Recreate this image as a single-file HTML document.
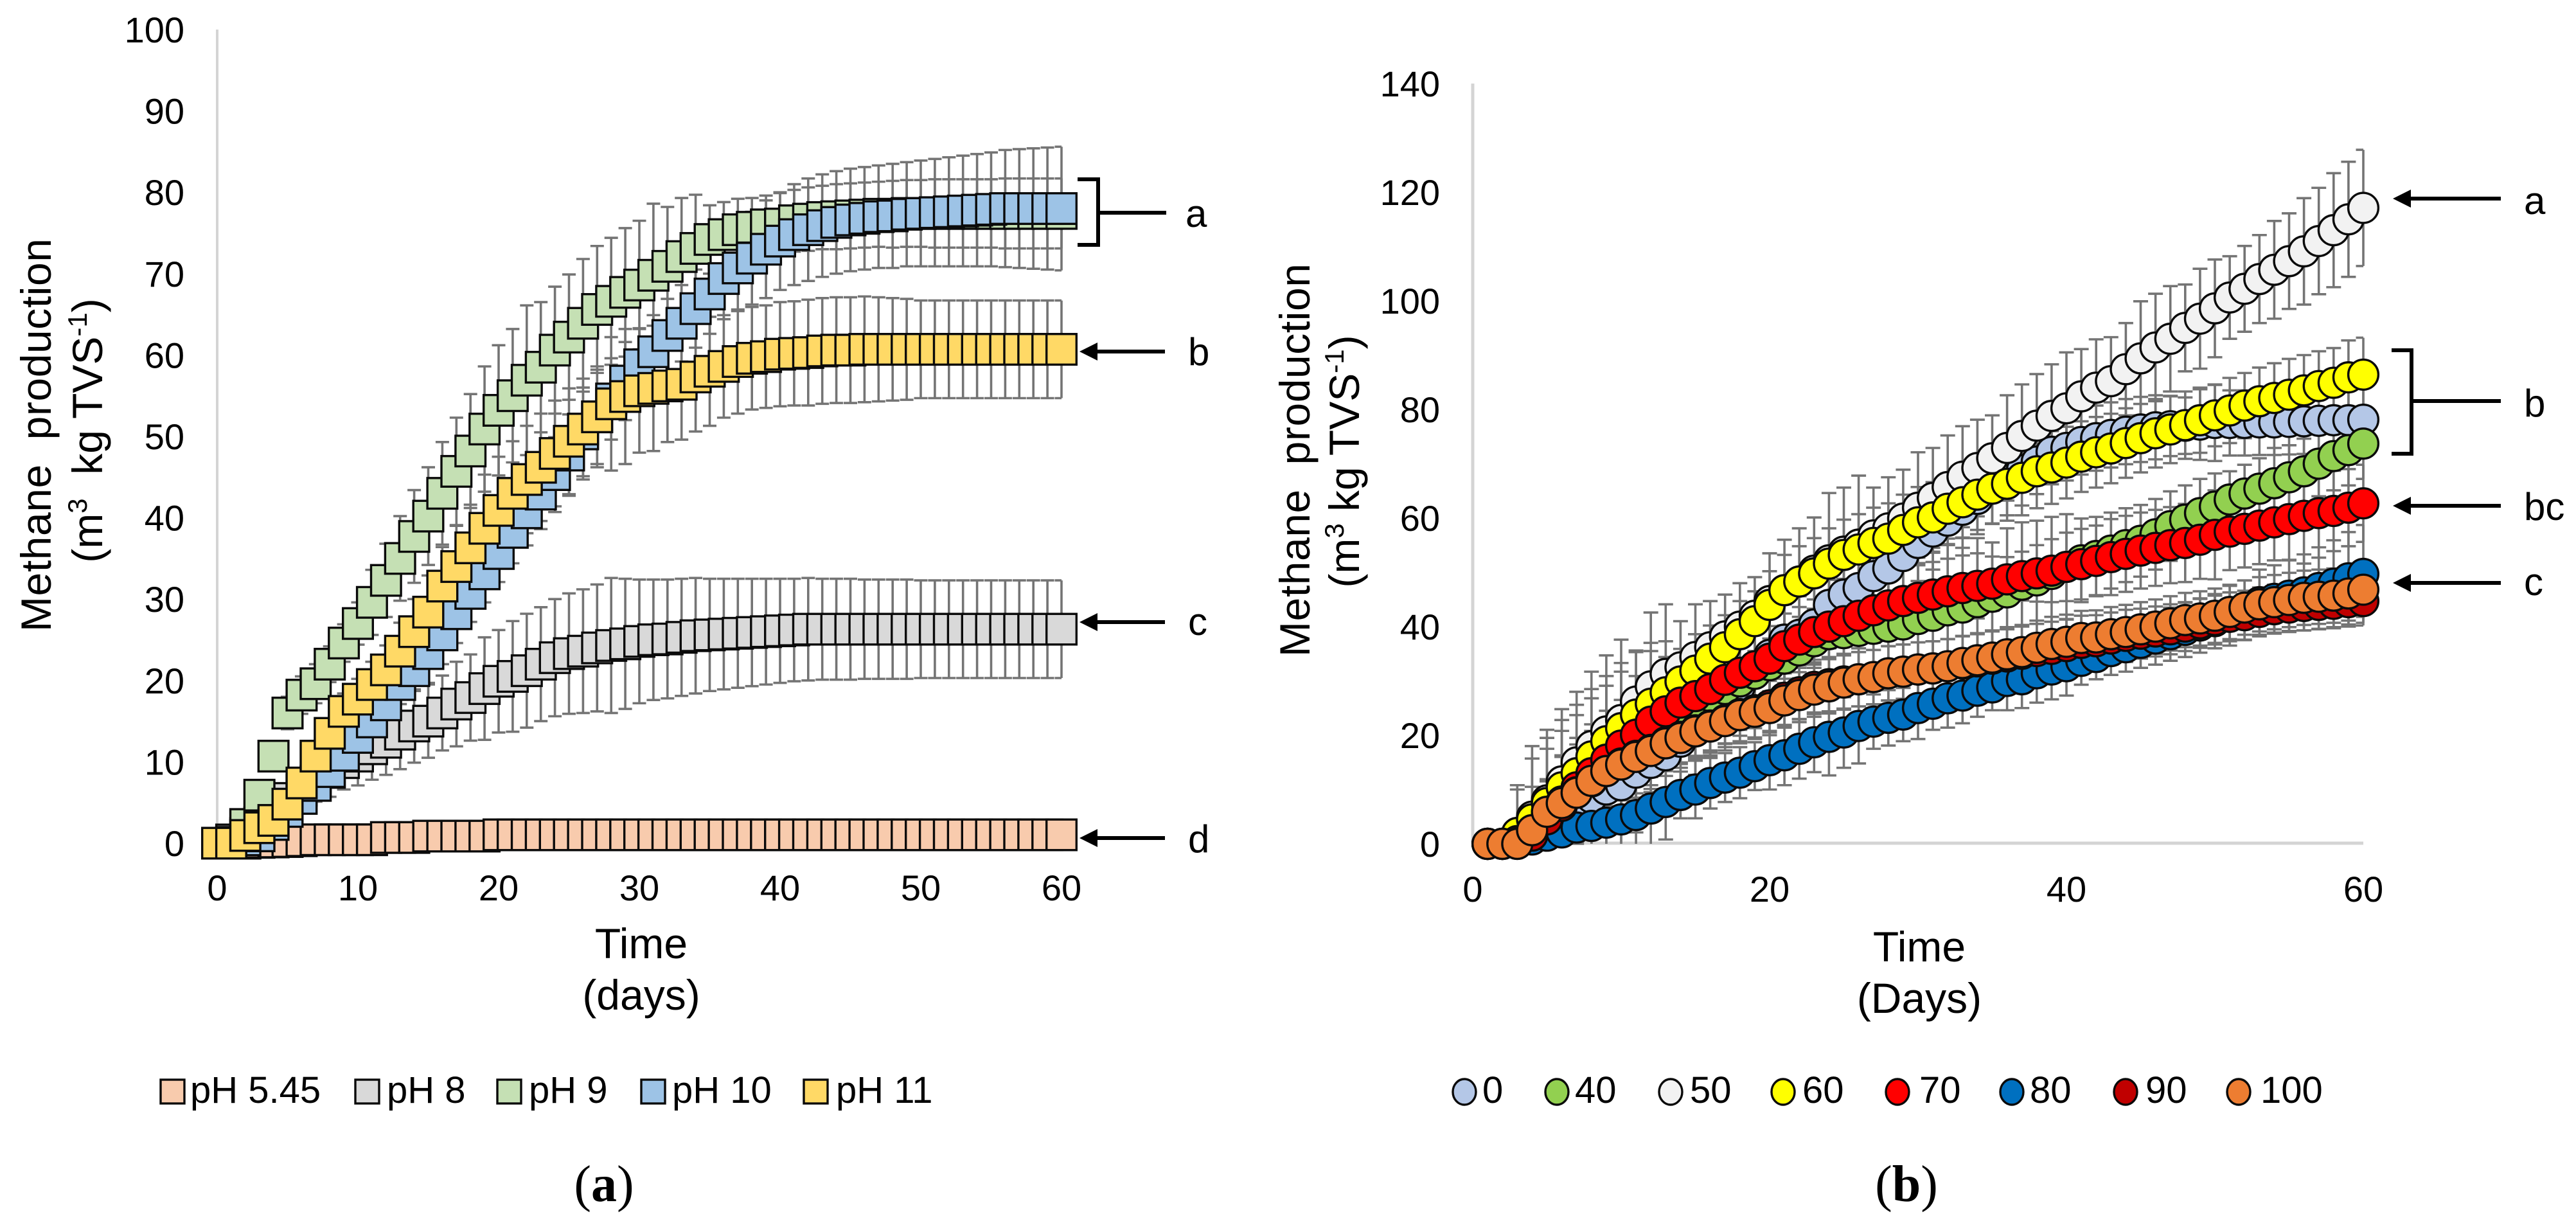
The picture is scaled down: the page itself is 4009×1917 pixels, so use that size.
<!DOCTYPE html>
<html>
<head>
<meta charset="utf-8">
<style>
html,body{margin:0;padding:0;background:#fff;}
svg{display:block;}
text{font-family:"Liberation Sans",sans-serif;fill:#000;}
.tick{font-size:56px;}
.title{font-size:66px;}
.leg{font-size:58px;}
.let{font-size:60px;}
.serif{font-family:"Liberation Serif",serif;font-size:80px;}
</style>
</head>
<body>
<svg id="fig" xmlns="http://www.w3.org/2000/svg" width="4009" height="1917" viewBox="0 0 4009 1917">
<rect x="0" y="0" width="4009" height="1917" fill="#ffffff"/>
<g id="chartA"></g>
<g id="chartB"></g>

<!-- chart a titles -->
<text class="title" transform="translate(79,677) rotate(-90)" text-anchor="middle" textLength="612" xml:space="preserve">Methane  production</text>
<text class="title" transform="translate(159,670) rotate(-90)" text-anchor="middle" xml:space="preserve">(m<tspan font-size="42" dy="-24">3</tspan><tspan dy="24">  kg TVS</tspan><tspan font-size="42" dy="-24">-1</tspan><tspan dy="24">)</tspan></text>
<text class="title" x="998" y="1491" text-anchor="middle">Time</text>
<text class="title" x="998" y="1571" text-anchor="middle">(days)</text>
<text class="serif" x="940" y="1869" text-anchor="middle">(<tspan font-weight="bold">a</tspan>)</text>

<!-- chart a annotations -->
<path d="M1677,279H1709V381H1677M1709,331H1815" fill="none" stroke="#000" stroke-width="6"/>
<text class="let" x="1845" y="353">a</text>
<g><path d="M1700,547H1813" stroke="#000" stroke-width="6"/><path d="M1680,547L1708,533V561Z"/></g>
<text class="let" x="1849" y="568">b</text>
<g><path d="M1700,968H1813" stroke="#000" stroke-width="6"/><path d="M1680,968L1708,954V982Z"/></g>
<text class="let" x="1849" y="988">c</text>
<g><path d="M1700,1304H1813" stroke="#000" stroke-width="6"/><path d="M1680,1304L1708,1290V1318Z"/></g>
<text class="let" x="1849" y="1326">d</text>

<!-- chart b titles -->
<text class="title" transform="translate(2038,716) rotate(-90)" text-anchor="middle" textLength="612" xml:space="preserve">Methane  production</text>
<text class="title" transform="translate(2115,718) rotate(-90)" text-anchor="middle">(m<tspan font-size="42" dy="-24">3</tspan><tspan dy="24"> kg TVS</tspan><tspan font-size="42" dy="-24">-1</tspan><tspan dy="24">)</tspan></text>
<text class="title" x="2987" y="1496" text-anchor="middle">Time</text>
<text class="title" x="2987" y="1576" text-anchor="middle">(Days)</text>
<text class="serif" x="2967" y="1869" text-anchor="middle">(<tspan font-weight="bold">b</tspan>)</text>

<!-- chart b annotations -->
<g><path d="M3745,309H3892" stroke="#000" stroke-width="6"/><path d="M3724,309L3752,295V323Z"/></g>
<text class="let" x="3928" y="333">a</text>
<path d="M3722,545H3753V706H3722M3753,624H3892" fill="none" stroke="#000" stroke-width="6"/>
<text class="let" x="3928" y="648">b</text>
<g><path d="M3745,787H3892" stroke="#000" stroke-width="6"/><path d="M3724,787L3752,773V801Z"/></g>
<text class="let" x="3928" y="809">bc</text>
<g><path d="M3745,907H3892" stroke="#000" stroke-width="6"/><path d="M3724,907L3752,893V921Z"/></g>
<text class="let" x="3928" y="926">c</text>
</svg>

<script>
// ===== Chart (a) data, days 0..60 =====
const aXTicks = [0,10,20,30,40,50,60];
const aYTicks = [0,10,20,30,40,50,60,70,80,90,100];
const aNames = ["pH 5.45","pH 8","pH 9","pH 10","pH 11"];
const aDays = [0,1,2,3,4,5,6,7,8,9,10,11,12,13,14,15,16,17,18,19,20,21,22,23,24,25,26,27,28,29,30,31,32,33,34,35,36,37,38,39,40,41,42,43,44,45,46,47,48,49,50,51,52,53,54,55,56,57,58,59,60];
const aPh545 = [0,0,0,0.1,0.15,0.2,0.3,0.42,0.42,0.42,
  0.42,0.42,0.7,0.7,0.7,0.87,0.87,0.87,0.87,0.87,
  1.03,1.03,1.03,1.03,1.03,1.03,1.03,1.03,1.03,1.03,
  1.03,1.03,1.03,1.03,1.03,1.03,1.03,1.03,1.03,1.03,
  1.03,1.03,1.03,1.03,1.03,1.03,1.03,1.03,1.03,1.03,
  1.03,1.03,1.03,1.03,1.03,1.03,1.03,1.03,1.03,1.03,1.03];
const aPh8 = [0,0.4,1.2,2.5,4,5.5,6.5,7.6,8.7,9.9,
  10.7,11.6,12.4,13.4,14.4,15,16,17.1,17.9,19,
  19.9,20.5,21.2,22,22.8,23.3,23.6,24,24.3,24.5,
  24.8,25,25.1,25.3,25.5,25.6,25.7,25.8,25.9,26,
  26.1,26.2,26.3,26.3,26.3,26.3,26.3,26.3,26.3,26.3,
  26.3,26.3,26.3,26.3,26.3,26.3,26.3,26.3,26.3,26.3,26.3];
const aPh9 = [0,0,2.3,5.9,10.7,16,18.2,19.6,22,24.6,
  27,29.6,32.3,35,37.7,40.2,43,45.7,48.2,50.9,
  53.2,55,56.9,58.5,60.6,62.2,63.9,65.6,66.6,67.7,
  68.6,69.8,70.9,72.1,73.1,74.2,74.8,75.4,75.7,76,
  76.1,76.5,76.7,76.9,77,77.1,77.2,77.3,77.3,77.4,
  77.4,77.4,77.4,77.4,77.4,77.4,77.4,77.4,77.4,77.4,77.4];
const aPh10 = [0,0.1,0.4,0.9,2.3,3.9,5.5,7.1,8.8,10.8,
  13,14.9,17,19.5,21.2,23.3,25.6,28.2,30.7,33.1,
  35.6,38.2,40.6,42.9,45.3,47.7,50.3,52.4,54.6,56.8,
  58.8,60.4,62.4,63.9,65.7,67.5,69.4,70.7,71.9,73,
  74,74.8,75.4,75.9,76.3,76.6,76.8,77,77.1,77.3,
  77.4,77.5,77.6,77.7,77.8,77.9,78,78,78,78,78];
const aPh11 = [0,0,0.95,1.9,2.8,4.8,7.4,10.7,13.5,16.2,
  17.7,19.5,21.3,23.6,26,28.4,31.6,34,36.3,38.7,
  40.9,43,44.7,46.2,47.9,49.4,50.9,52.4,54,54.9,
  55.6,55.9,56.2,56.4,57.3,58,58.6,59.2,59.6,59.8,
  60.1,60.2,60.3,60.5,60.6,60.6,60.7,60.7,60.7,60.7,
  60.7,60.7,60.7,60.7,60.7,60.7,60.7,60.7,60.7,60.7,60.7];
const aErr545 = [0,0,0,0.1,0.1,0.2,0.2,0.2,0.3,0.3,
  0.3,0.3,0.4,0.4,0.4,0.4,0.4,0.4,0.4,0.4,
  0.4,0.4,0.4,0.4,0.4,0.4,0.4,0.4,0.4,0.4,
  0.4,0.4,0.4,0.4,0.4,0.4,0.4,0.4,0.4,0.4,
  0.4,0.4,0.4,0.4,0.4,0.4,0.4,0.4,0.4,0.4,
  0.4,0.4,0.4,0.4,0.4,0.4,0.4,0.4,0.4,0.4,0.4];
const aErr8 = [0,0.2,0.5,0.8,1.2,1.5,2,2.5,3,3.3,
  3.6,3.8,4,4.3,4.5,4.5,4.6,5.2,5.3,6.3,
  6.3,6.8,7,7,7.2,7.4,7.6,7.8,8.3,8,
  7.6,7.4,7.3,7.2,7.1,6.9,6.8,6.7,6.6,6.5,
  6.4,6.3,6.3,6.2,6.2,6.2,6.1,6.1,6.1,6.1,
  6,6,6,6,6,6,6,6,6,6,6];
const aErr9 = [0,0,0.5,1,1.5,2,2.3,2.4,2.2,2.3,
  2.6,4,4.5,5.2,5.7,6,6.3,6.6,7,7.7,
  8,8.2,9.2,8,7.8,7.7,7.9,7.8,7.8,7.9,
  7.9,8.8,7.3,7.2,6.6,4.2,4,3.8,3.6,3.6,
  3.8,3.8,3.9,3.9,4,4,4,4,4.1,4.1,
  4.1,4.2,4.2,4.2,4.2,4.2,4.3,4.3,4.3,4.3,4.3];
const aErr10 = [0,0,0.2,0.4,0.7,1,1.2,1.4,1.6,1.8,
  2,2.2,2.4,2.4,2.5,3.6,3.6,3.6,3.5,3.5,
  3.5,3.8,4,4.3,4.6,5,5.2,5.8,5,4.8,
  4.5,4.5,4.5,4.7,4.8,4.9,5,5.3,5.7,6,
  6,6.2,6.3,6.3,6.3,6.3,6.3,6.3,6.4,6.4,
  6.5,6.6,6.7,6.8,6.9,7,7.2,7.3,7.4,7.5,7.6];
const aErr11 = [0,0,0.3,0.6,0.8,1,1.2,1.5,1.8,2.2,
  2.5,2.8,3,3.5,4,4.5,4.8,5,5.3,6.6,
  6.6,6.4,6.6,6.6,6.5,6.5,6.2,6.2,8.2,8.3,
  7.6,7.7,6.9,6.8,6.7,6.7,6.3,6.4,6.3,6.3,
  6.4,6.4,6.5,6.5,6.5,6.5,6.5,6.4,6.3,6.2,
  6,6,6,6,6,6,6,6,6,6,6];

// ===== Chart (b) data, days 1..60 =====
const bXTicks = [0,20,40,60];
const bYTicks = [0,20,40,60,80,100,120,140];
const bNames = ["0","40","50","60","70","80","90","100"];
const bDays = [1,2,3,4,5,6,7,8,9,10,11,12,13,14,15,16,17,18,19,20,21,22,23,24,25,26,27,28,29,30,31,32,33,34,35,36,37,38,39,40,41,42,43,44,45,46,47,48,49,50,51,52,53,54,55,56,57,58,59,60];
const b0 = [0,0,0.6,1.8,3.2,5,6.8,8.5,10,10.8,
  13.1,14.9,16.3,18.8,21.2,23.8,26.4,29,31.8,34.8,
  37.6,38.5,40.4,44,45.9,47.1,49.3,50.7,53,55.4,
  57.5,59.5,61.5,63.5,65.5,67,68.8,70.4,72.2,72.9,
  74,74.7,75.3,75.9,76.3,76.7,76.9,77,77.2,77.5,
  77.5,77.5,77.6,77.6,77.7,77.8,77.9,78,78,78.1];
const b40 = [0,0,1,3,5.5,8,10.5,12.5,14.5,16.5,
  18.5,20.8,23.4,25,26.2,27.2,28.5,29.9,31.3,32.9,
  34.1,35.6,37.3,38.6,38.8,39.2,39.6,40,40.4,41.4,
  42,43,43.5,44.5,45.5,46.3,47.7,48.5,49.7,51,
  52.2,53,54,55,55.8,57,58.5,59.7,60.9,62.1,
  63.4,64.5,65.4,66.4,67.5,68.6,70,71.4,72.5,73.7];
const b50 = [0,0,2,5,8,11.5,15,18,20.7,22.8,
  26.2,29,31.3,32.5,34.4,36.2,38.2,40,42,44.7,
  46.7,48.3,50.3,52.2,53.8,55.1,56.8,58.1,59.9,61.9,
  63.7,65.7,67.6,69.2,71,72.9,75.1,77,78.8,80.2,
  82.4,84,85.2,87.4,89.4,91.4,93,95,96.7,98.6,
  100.6,102.2,104,105.7,107.3,109.1,111,113,115,117.1];
const b60 = [0,0,2,4.5,7.5,10.4,13,16.1,18.9,21.3,
  23.8,25.8,27.9,29.9,31.9,34.1,36.2,38.6,41,44,
  46.7,48.3,49.8,51.6,53.2,54.2,55.4,56.2,57.8,59.2,
  60.1,61.7,62.9,64.3,65.4,66.3,67.4,68.6,69.3,70.2,
  71.3,72.1,72.8,73.8,74.7,75.6,76.3,77.1,78,78.9,
  79.8,80.7,81.5,82.1,82.7,83.5,84.3,84.9,85.9,86.4];
const b70 = [0,0,0.5,2.5,5.5,7.8,10.4,13,15.5,18.1,
  20.1,22.5,24.4,26,27.2,28.5,30.2,31.5,32.7,34.1,
  36.4,37.6,39,40,41,42,43,43.9,44.7,45.3,
  45.9,46.5,47.1,47.5,47.9,48.7,49.3,49.8,50.3,51,
  51.5,52.1,52.8,53.4,54,54.5,55,55.4,56,56.9,
  57.5,58,58.6,59.2,59.8,60.4,60.9,61.3,61.9,62.7];
const b80 = [0,0,0.3,0.8,1.5,2.1,3,3.3,3.9,4.5,
  5.3,6.5,7.7,9,10,11.2,12.2,13.1,14.3,15.4,
  16.3,17.5,18.7,19.7,20.5,21.7,22.5,23.2,23.8,25,
  25.8,26.8,27.3,28.2,28.8,30,30.3,31.4,32.1,32.7,
  33.7,34.4,35.5,36.2,37,37.8,38.6,39.4,40.2,41,
  42,43,44.5,45.1,45.7,46.3,47.1,47.9,48.9,49.7];
const b90 = [0,0,0,1.5,4.5,7,9.5,11.5,13.4,14.8,
  16.2,17.3,18.7,19.7,20.9,21.8,22.8,23.9,24.6,25.5,
  26.9,27.9,28.9,29.4,29.9,30.3,30.7,31.4,31.7,32.1,
  32.3,32.7,33.2,33.6,34.1,34.5,35,35.5,35.9,36.4,
  37,37.3,37.8,38.3,38.7,39.1,39.5,40,40.6,41.2,
  41.8,42.1,42.7,43.2,43.5,43.8,44,44.2,44.5,44.7];
const b100 = [0,0,0,2.5,5.9,7.5,9.4,11.6,13.4,14.6,
  16,17.1,18.5,19.5,20.7,21.6,22.6,23.7,24.3,25,
  26.4,27.4,28.4,29,29.7,30.3,30.7,31.4,31.7,32.1,
  32.3,32.7,33.3,33.8,34.3,34.9,35.3,36.1,36.8,37.2,
  37.9,38,38.6,39,39.5,40,40.6,41.2,41.5,42,
  42.7,43.5,44.1,44.5,44.9,45.3,45.5,45.7,46.1,46.8];
const bErr0 = [0,0,2,4,6,8,9,10,10.5,11,
  11,10,9.5,9,8.5,8,8,8,8,8,
  8,8,8,8,7.5,7.5,7.5,7,7,7,
  7,7,7,6.5,6.5,6.5,6.5,6,6,6,
  6,6,6,6,6,5.9,5.5,5.2,6.5,7,
  6,6,6,6,6,6,6,6,6,6];
const bErr40 = [0,0,2,4,6,8,9,9.5,10,10,
  10,10,10,10,10,10,10,10,10,10,
  10,10,10,10,10,10,10,10,10.4,10.2,
  11.8,12,12.8,11.8,10,11.8,11.5,11,10.5,9.7,
  7.7,7.2,7,6.8,6.6,6.5,6.4,6.3,6.3,6.1,
  5.2,5.3,5.6,6.5,5.9,6,6,6.3,6.5,6.5];
const bErr50 = [0,0,8.8,13,13,13.3,13,13.7,14,14.8,
  9.4,13.6,12.8,8.5,9.7,8.5,7.7,8,7.1,8.8,
  9.3,9.8,9.8,12.4,11.8,12.7,8.8,9.4,9,10.2,
  9.2,9.5,9.3,8.9,7.9,9.7,9.5,9.5,9.5,10.3,
  8.7,8.9,8.1,8.5,10.5,9.9,9.7,8,9.2,9,
  7.6,7.9,8.1,9,8.8,9.8,9.8,10.5,10.6,10.7];
const bErr60 = [0,0,8,11.2,12,12.4,12.6,12.4,12,12,
  11.5,11.2,9.4,6,6.7,6.1,5.9,6.1,5.5,6.2,
  6.5,6.5,6.5,6.5,6.5,6.5,6.5,6.5,6.5,6.5,
  6.5,6.5,6.5,6.5,6.5,6.8,6.9,6.8,6.7,6.6,
  6.5,6.5,6.4,6.4,6.3,6.3,6.2,6.2,6,5.7,
  6,6,6.2,6.4,6.6,6.5,6.4,6.4,6.8,6.8];
const bErr70 = [0,0,3,8,12,13,13.3,13.8,13.6,13.6,
  10.8,13,10,8,7,6.5,6.5,6.3,6,6,
  6,6,6,6,6,6,6,6,6,6,
  6,6,6,6,5,4.1,4.5,5.2,5.8,6.3,
  6.5,6.5,7,7,7,7,7,7.2,7.2,8.2,
  7.1,7.1,7.1,7,7.5,8.8,8.2,7.4,7.1,7.1];
const bErr80 = [0,0,0.5,1,1.5,2,3,4,5,5.5,
  6,7,6.9,4.3,5.3,4.7,4.5,4.7,4.4,5.4,
  5.5,5.5,5.5,7.1,6.5,6.9,5,5.1,4.9,5.7,
  4.8,5.4,5.1,4.8,4.2,5.4,5.3,5.4,5.5,5.4,
  4.4,4.1,4.4,4.5,4.6,4.8,4.9,5,5,5,
  5.5,5.5,6,6.2,6.5,7,7.5,8,8.5,9];
const bErr90 = [0,0,0,1,2,3,4,5,5,5,
  5,5,5,5,5,5,5,5,5,5,
  5,5,5,5,5,5,5,5,5,5,
  5,5,5,5,5,5,5,5,5,5,
  5,4.8,4.8,4.8,4.6,4.6,4.6,4.5,4.5,4.5,
  4.5,4.5,4.5,4.5,4.5,4.5,4.5,4.5,4.5,4.5];
const bErr100 = [0,0,0,4,6,8.8,8.9,9.2,9.8,9,
  8,7,6,5.5,5.2,5.3,5.4,5.2,5,5,
  5,5,5,5,5,5,5,5,5,5,
  5,5,5,5,5,5,5,5,5,5,
  5,5,5,5,5,5,5,5,5,5,
  5,5,5,5,5,5,5,5,5,5];

// ===== Scales =====
function xA(v){return 338+v*21.9;}
function yA(v){return 1312-v*12.66;}
function xB(v){return 2292+v*23.1;}
function yB(v){return 1313-v*8.45;}

const NS='http://www.w3.org/2000/svg';
function mk(tag,parent,attrs,txt){
  const el=document.createElementNS(NS,tag);
  for(const k in attrs){el.setAttribute(k,attrs[k]);}
  if(txt!==undefined){el.textContent=txt;}
  parent.appendChild(el);
  return el;
}
function slug(s){return s.toLowerCase().replace(/[^a-z0-9]+/g,'-');}

function drawChart(cfg){
  const root=cfg.root;
  // axes
  const yAxis=mk('line',root,{x1:cfg.x(0),x2:cfg.x(0),y1:cfg.y(cfg.yMax),y2:cfg.y(0),stroke:'#d4d4d4','stroke-width':cfg.axisW});
  
  
  const xAxis=mk('line',root,{x1:cfg.x(0),x2:cfg.x(60),y1:cfg.y(0)-1,y2:cfg.y(0)-1,stroke:'#d4d4d4','stroke-width':5});
  
  
  // tick labels
  cfg.yTicks.forEach(function(t){
    const el=mk('text',root,{class:'tick',x:cfg.yLabelX,y:cfg.y(t)+20,'text-anchor':'end'},String(t));
    
    
  });
  cfg.xTicks.forEach(function(t){
    const el=mk('text',root,{class:'tick',x:cfg.x(t),y:cfg.xLabelY,'text-anchor':'middle'},String(t));
    
    
  });
  // error bars, behind every marker; clipped at the plot's right edge and at y = 0
  const xMax=cfg.x(60);
  const capH=cfg.capHalf;
  cfg.series.forEach(function(s){
    const g=mk('g',root,{fill:'none',stroke:'#747474','stroke-width':3.6});
    
    
    cfg.days.forEach(function(d,i){
      const px=cfg.x(d), up=cfg.y(s.vals[i]+s.errs[i]);
      const raw=s.vals[i]-s.errs[i];
      const clipped=raw<0;
      const lo=cfg.y(clipped?0:raw);
      const r=Math.min(px+capH,xMax);
      let dd='M'+px+','+up+'V'+lo+'M'+(px-capH)+','+up+'H'+r;
      if(!clipped){dd+='M'+(px-capH)+','+lo+'H'+r;}
      const p=mk('path',g,{d:dd});
      
      
    });
  });
  // markers
  cfg.series.forEach(function(s){
    const g=mk('g',root,{fill:s.color,stroke:'#0a0a0a','stroke-width':3.4});
    
    
    cfg.days.forEach(function(d,i){
      const px=cfg.x(d), py=cfg.y(s.vals[i]);
      let m;
      if(cfg.shape==='square'){
        m=mk('rect',g,{x:px-23.3,y:py-23.8,width:46.6,height:47.6});
      }else{
        m=mk('circle',g,{cx:px,cy:py,r:23.4});
      }
      
      
    });
  });
  // legend
  cfg.series.forEach(function(s,i){
    let m;
    if(cfg.shape==='square'){
      m=mk('rect',root,{x:cfg.legSwatch[i],y:1680,width:37,height:37,fill:s.color,stroke:'#0a0a0a','stroke-width':3.4});
    }else{
      m=mk('ellipse',root,{cx:cfg.legSwatch[i],cy:1699,rx:18,ry:20,fill:s.color,stroke:'#0a0a0a','stroke-width':3.4});
    }
    
    
    const t=mk('text',root,{class:'leg',x:cfg.legText[i],y:1716},s.name);
    
    
  });
}

drawChart({
  root:document.getElementById('chartA'),
  x:xA,y:yA,yMax:100,days:aDays,shape:'square',axisW:4,capHalf:10.5,
  xTicks:aXTicks,yTicks:aYTicks,yLabelX:287,xLabelY:1401,
  legSwatch:[250,553,774,998,1251],legText:[296,602,823,1046,1301],
  series:[
    {name:aNames[0],vals:aPh545,errs:aErr545,color:'#f8cbad'},
    {name:aNames[1],vals:aPh8,errs:aErr8,color:'#d9d9d9'},
    {name:aNames[2],vals:aPh9,errs:aErr9,color:'#c5e0b4'},
    {name:aNames[3],vals:aPh10,errs:aErr10,color:'#9dc3e6'},
    {name:aNames[4],vals:aPh11,errs:aErr11,color:'#ffd966'}
  ]
});
drawChart({
  root:document.getElementById('chartB'),
  x:xB,y:yB,yMax:140,days:bDays,shape:'circle',axisW:5,capHalf:11.5,
  xTicks:bXTicks,yTicks:bYTicks,yLabelX:2241,xLabelY:1403,
  legSwatch:[2279,2423,2600,2775,2953,3131,3308,3484],legText:[2307,2451,2630,2805,2987,3159,3339,3518],
  series:[
    {name:bNames[0],vals:b0,errs:bErr0,color:'#b4c7e7'},
    {name:bNames[1],vals:b40,errs:bErr40,color:'#92d050'},
    {name:bNames[2],vals:b50,errs:bErr50,color:'#f2f2f2'},
    {name:bNames[3],vals:b60,errs:bErr60,color:'#ffff00'},
    {name:bNames[4],vals:b70,errs:bErr70,color:'#ff0000'},
    {name:bNames[5],vals:b80,errs:bErr80,color:'#0070c0'},
    {name:bNames[6],vals:b90,errs:bErr90,color:'#c00000'},
    {name:bNames[7],vals:b100,errs:bErr100,color:'#ed7d31'}
  ]
});
</script>
</body>
</html>
